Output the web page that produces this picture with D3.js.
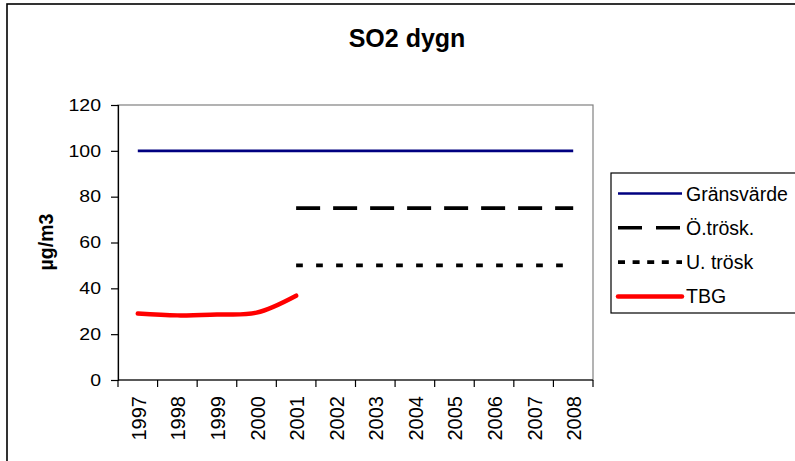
<!DOCTYPE html>
<html>
<head>
<meta charset="utf-8">
<script src="https://cdn.jsdelivr.net/npm/d3@7"></script>
<style>
  html, body { margin: 0; padding: 0; background: #fff; }
  svg { display: block; font-family: "Liberation Sans", Arial, sans-serif; }
  .ylab { transform-box: fill-box; transform-origin: right center; transform: scaleX(1.18); }
</style>
</head>
<body>
<svg id="chart" width="795" height="461"></svg>
<script>
const years = ["1997","1998","1999","2000","2001","2002","2003","2004","2005","2006","2007","2008"];
const gransvarde = [100,100,100,100,100,100,100,100,100,100,100,100];
const oTrosk = [null,null,null,null,75,75,75,75,75,75,75,75];
const uTrosk = [null,null,null,null,50,50,50,50,50,50,50,50];
const tbg = [29,28.2,28.6,29.4,36.8,null,null,null,null,null,null,null];
const yTicks = [0,20,40,60,80,100,120];
const seriesNames = ["Gränsvärde","Ö.trösk.","U. trösk","TBG"];

const svg = d3.select("#chart");
const W = 795, H = 461;
const plot = {left: 118, top: 105, right: 593, bottom: 380};

svg.append("rect").attr("width", W).attr("height", H).attr("fill", "#fff");
// outer chart border
svg.append("rect").attr("x", 7).attr("y", 4).attr("width", 820).attr("height", 500)
  .attr("fill", "none").attr("stroke", "#000").attr("stroke-width", 1.6);

const x = d3.scaleBand().domain(years).range([plot.left, plot.right]).padding(0);
const y = d3.scaleLinear().domain([0, 120]).range([plot.bottom, plot.top]);
const cx = d => x(d) + x.bandwidth() / 2;

// plot area border (gray)
svg.append("rect").attr("x", plot.left).attr("y", plot.top)
  .attr("width", plot.right - plot.left).attr("height", plot.bottom - plot.top)
  .attr("fill", "none").attr("stroke", "#808080").attr("stroke-width", 1.2);

// title
svg.append("text").attr("x", 407).attr("y", 47).attr("text-anchor", "middle")
  .attr("font-size", 25).attr("font-weight", "bold").text("SO2 dygn");

// y axis
const yAxis = d3.axisLeft(y).tickValues(yTicks).tickSize(7).tickPadding(10);
const gy = svg.append("g").attr("transform", `translate(${plot.left},0)`).call(yAxis);
gy.select(".domain").attr("stroke", "#000").attr("stroke-width", 1.2);
gy.selectAll(".tick line").attr("stroke", "#000").attr("stroke-width", 1.2);
gy.selectAll(".tick text").attr("class", "ylab").attr("font-size", 16.5)
  .attr("font-family", "Liberation Sans, Arial, sans-serif").attr("fill", "#000");

// x axis (ticks at category boundaries)
const boundaries = years.map(d => x(d)).concat([plot.right]);
const gx = svg.append("g");
gx.append("line").attr("x1", plot.left).attr("x2", plot.right)
  .attr("y1", plot.bottom).attr("y2", plot.bottom).attr("stroke", "#000").attr("stroke-width", 1.2);
gx.selectAll("line.t").data(boundaries).enter().append("line").attr("class", "t")
  .attr("x1", d => d).attr("x2", d => d).attr("y1", plot.bottom).attr("y2", plot.bottom + 7)
  .attr("stroke", "#000").attr("stroke-width", 1.2);
gx.selectAll("text").data(years).enter().append("text")
  .attr("transform", d => `translate(${cx(d) + 1},396) rotate(-90)`)
  .attr("text-anchor", "end").attr("dy", "0.35em").attr("font-size", 20).text(d => d);

// y axis title
svg.append("text").attr("transform", "translate(46,242) rotate(-90)")
  .attr("text-anchor", "middle").attr("dy", "0.35em")
  .attr("font-size", 19.5).attr("font-weight", "bold").text("µg/m3");

// series
const straight = d3.line().defined(d => d.v != null).x(d => cx(d.k)).y(d => y(d.v));
const smooth = d3.line().defined(d => d.v != null).x(d => cx(d.k)).y(d => y(d.v))
  .curve(d3.curveCatmullRom.alpha(0.5));
const toPts = arr => years.map((k, i) => ({k, v: arr[i]}));

svg.append("path").datum(toPts(gransvarde)).attr("d", straight)
  .attr("fill", "none").attr("stroke", "#000080").attr("stroke-width", 2.6);
svg.append("path").datum(toPts(oTrosk)).attr("d", straight)
  .attr("fill", "none").attr("stroke", "#000").attr("stroke-width", 3.6)
  .attr("stroke-dasharray", "24,13");
svg.append("path").datum(toPts(uTrosk)).attr("d", straight)
  .attr("fill", "none").attr("stroke", "#000").attr("stroke-width", 3.6)
  .attr("stroke-dasharray", "6.7,13.3");
svg.append("path").datum(toPts(tbg)).attr("d", smooth)
  .attr("fill", "none").attr("stroke", "#ff0000").attr("stroke-width", 4.5)
  .attr("stroke-linecap", "round").attr("stroke-linejoin", "round");

// legend
const lg = svg.append("g");
lg.append("rect").attr("x", 611).attr("y", 173).attr("width", 220).attr("height", 140)
  .attr("fill", "#fff").attr("stroke", "#000").attr("stroke-width", 1.2);
const legendStyles = [
  {color: "#000080", w: 2.6, dash: null},
  {color: "#000", w: 3.6, dash: "24,14"},
  {color: "#000", w: 3.6, dash: "7,7.6"},
  {color: "#ff0000", w: 4.5, dash: null}
];
seriesNames.forEach((name, i) => {
  const yy = 193.5 + i * 34.3;
  const s = legendStyles[i];
  const ln = lg.append("line").attr("x1", 618).attr("x2", 682).attr("y1", yy).attr("y2", yy)
    .attr("stroke", s.color).attr("stroke-width", s.w);
  if (s.dash) ln.attr("stroke-dasharray", s.dash);
  if (i === 3) ln.attr("stroke-linecap", "round");
  lg.append("text").attr("x", 686).attr("y", yy).attr("dy", "0.36em")
    .attr("font-size", 19.5).text(name);
});
</script>
</body>
</html>
